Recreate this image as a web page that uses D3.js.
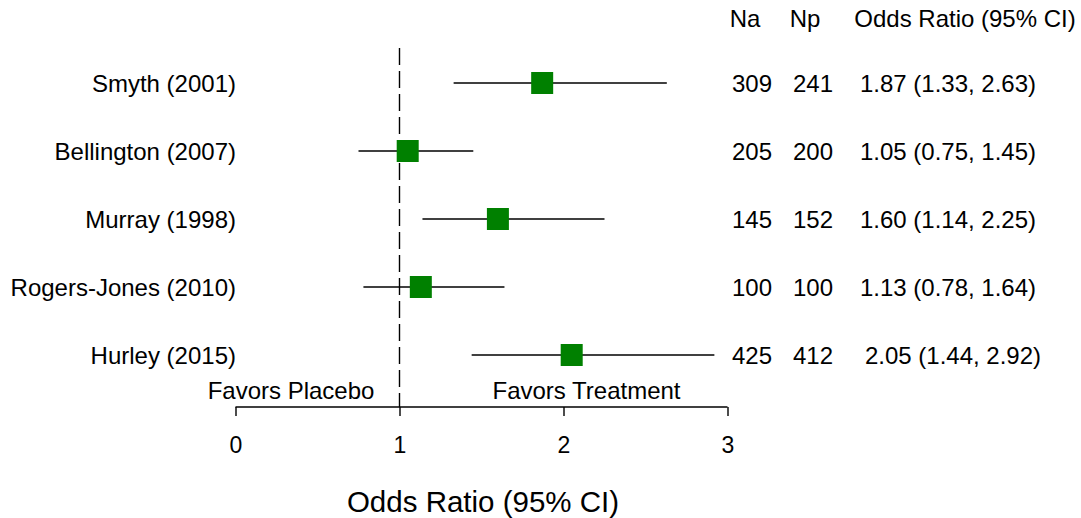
<!DOCTYPE html>
<html>
<head>
<meta charset="utf-8">
<script src="https://cdn.jsdelivr.net/npm/d3@7"></script>
<style>
  html, body { margin: 0; padding: 0; background: #fff; }
  svg { display: block; font-family: "Liberation Sans", Arial, sans-serif; }
  svg text { font-family: "Liberation Sans", Arial, sans-serif; fill: #000; }
</style>
</head>
<body>
<svg id="chart" width="1081" height="518"></svg>
<script>
// Study-level data for the forest plot
const studies = ["Smyth (2001)", "Bellington (2007)", "Murray (1998)", "Rogers-Jones (2010)", "Hurley (2015)"];
const nActive = [309, 205, 145, 100, 425];
const nPlacebo = [241, 200, 152, 100, 412];
const oddsRatio = [1.87, 1.05, 1.60, 1.13, 2.05];
const ciLower = [1.33, 0.75, 1.14, 0.78, 1.44];
const ciUpper = [2.63, 1.45, 2.25, 1.64, 2.92];
const xTicks = [0, 1, 2, 3];
const columnHeaders = ["Na", "Np", "Odds Ratio (95% CI)"];

const rows = studies.map((s, i) => ({
  study: s, na: nActive[i], np: nPlacebo[i],
  or: oddsRatio[i], lo: ciLower[i], hi: ciUpper[i], i
}));

const svg = d3.select("#chart");
const x = d3.scaleLinear().domain([0, 3]).range([235.5, 727.5]);
const y = d3.scaleLinear().domain([0, studies.length - 1]).range([83, 355]);
const fmt = d3.format(".2f");
const fontSize = 24;
const axisY = 407;

// reference line at OR = 1
svg.append("line")
  .attr("x1", x(1)).attr("x2", x(1))
  .attr("y1", 48).attr("y2", axisY)
  .attr("stroke", "#000").attr("stroke-width", 1.4)
  .attr("stroke-dasharray", "17,6");

// confidence interval lines
svg.append("g").selectAll("line").data(rows).join("line")
  .attr("x1", d => x(d.lo)).attr("x2", d => x(d.hi))
  .attr("y1", d => y(d.i)).attr("y2", d => y(d.i))
  .attr("stroke", "#000").attr("stroke-width", 1.5);

// point estimates
const sq = 22;
svg.append("g").selectAll("rect").data(rows).join("rect")
  .attr("x", d => x(d.or) - sq / 2).attr("y", d => y(d.i) - sq / 2)
  .attr("width", sq).attr("height", sq)
  .attr("fill", "#008000");

// study names
svg.append("g").selectAll("text").data(rows).join("text")
  .attr("x", 236).attr("y", d => y(d.i) + 8.8)
  .attr("text-anchor", "end").attr("font-size", fontSize)
  .text(d => d.study);

// table columns
const colText = [
  { key: d => d.na, cx: 752 },
  { key: d => d.np, cx: 813 },
  { key: d => `${fmt(d.or)} (${fmt(d.lo)}, ${fmt(d.hi)})`, cx: 948 }
];
colText.forEach(c => {
  svg.append("g").selectAll("text").data(rows).join("text")
    .attr("x", d => c.cx + (c.cx === 948 && d.i === 4 ? 5 : 0))
    .attr("y", d => y(d.i) + 8.8)
    .attr("text-anchor", "middle").attr("font-size", fontSize)
    .text(c.key);
});

// column headers
const headerX = [745, 805, 965];
svg.append("g").selectAll("text").data(columnHeaders).join("text")
  .attr("x", (d, i) => headerX[i]).attr("y", 27)
  .attr("text-anchor", "middle").attr("font-size", fontSize)
  .text(d => d);

// x axis
const axis = d3.axisBottom(x).tickValues(xTicks).tickFormat(d3.format("d"))
  .tickSize(9).tickSizeOuter(0);
const gAxis = svg.append("g").attr("transform", `translate(0,${axisY})`).call(axis);
gAxis.attr("font-family", null).attr("font-size", null);
gAxis.select(".domain").attr("stroke-width", 1.4).attr("d", `M${x(0)},0H${x(3)}`);
gAxis.selectAll(".tick line").attr("stroke-width", 1.4);
gAxis.selectAll(".tick text")
  .attr("font-size", 23)
  .attr("fill", "#000").attr("y", 0).attr("dy", null)
  .attr("transform", "translate(0,46)");

// direction labels
svg.append("text").attr("x", 291).attr("y", 399).attr("text-anchor", "middle")
  .attr("font-size", fontSize).text("Favors Placebo");
svg.append("text").attr("x", 586.5).attr("y", 399).attr("text-anchor", "middle")
  .attr("font-size", fontSize).text("Favors Treatment");

// axis title
svg.append("text").attr("x", 483).attr("y", 512).attr("text-anchor", "middle")
  .attr("font-size", 29.5).text("Odds Ratio (95% CI)");
</script>
</body>
</html>
